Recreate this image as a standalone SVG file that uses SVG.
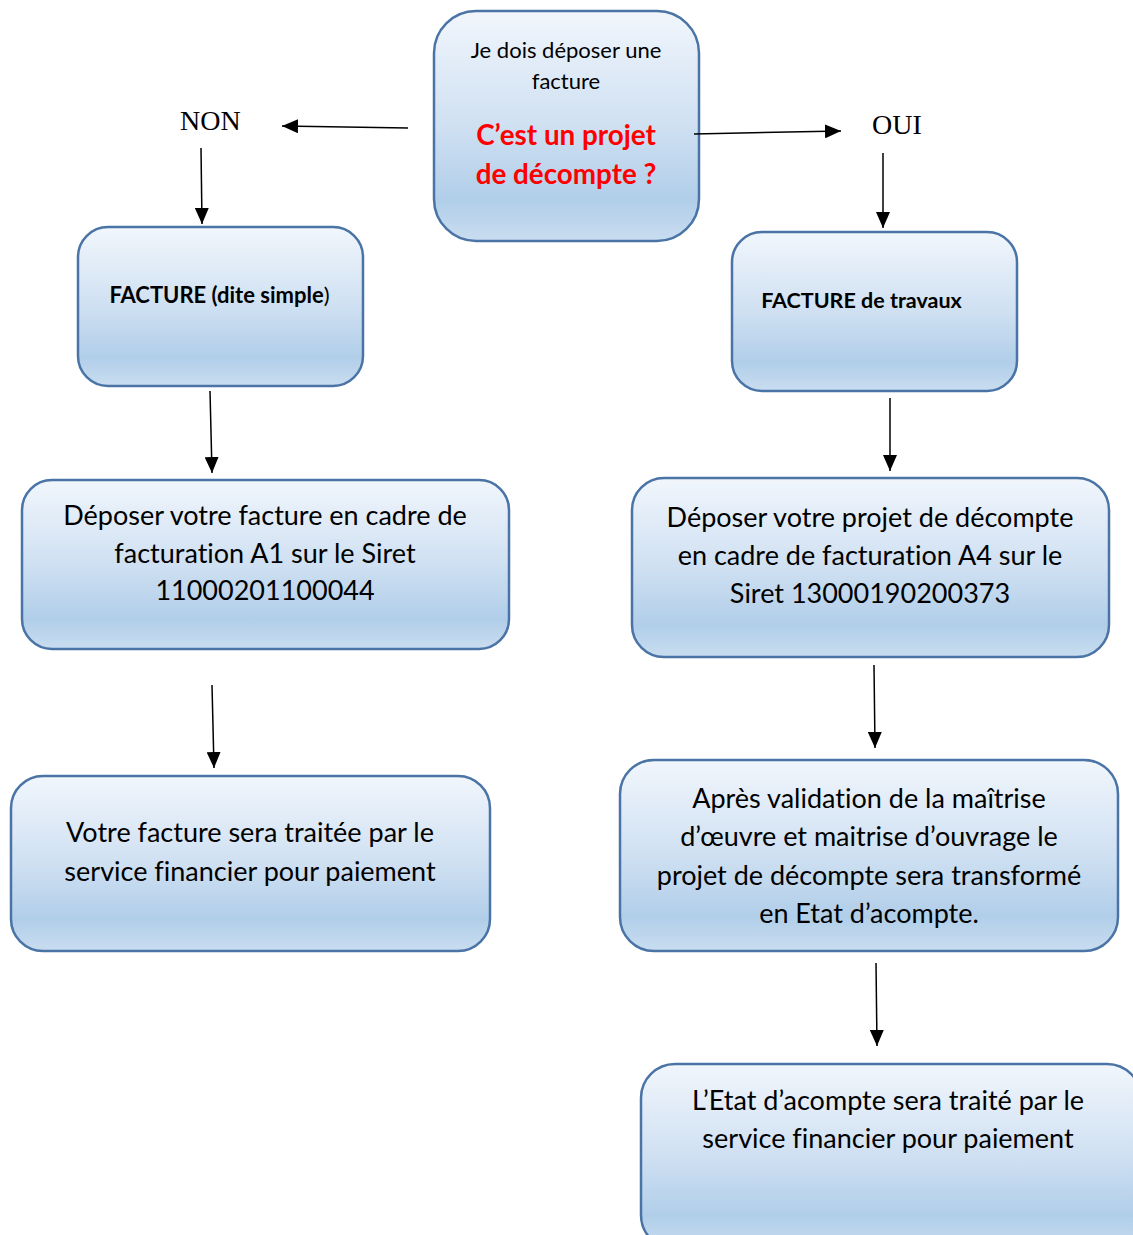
<svg xmlns="http://www.w3.org/2000/svg" width="1133" height="1235" viewBox="0 0 1133 1235">
<defs>
<linearGradient id="g" x1="0" y1="0" x2="0" y2="1">
<stop offset="0" stop-color="#f1f6fc"/>
<stop offset="0.5" stop-color="#cfe0f2"/>
<stop offset="0.82" stop-color="#b1cee9"/>
<stop offset="1" stop-color="#c9ddf0"/>
</linearGradient>
<marker id="ah2" viewBox="0 0 16 14" refX="16" refY="7" markerWidth="16" markerHeight="14" markerUnits="userSpaceOnUse" orient="auto">
<path d="M0,0 L16,7 L0,14 z" fill="#000"/>
</marker>
</defs>
<style>
.box{fill:url(#g);stroke:#4a74a5;stroke-width:2.5}
.t{font-family:Lato,"Liberation Sans",sans-serif;fill:#000;text-anchor:middle;font-variant-ligatures:none}
.b{font-weight:bold}
.r{fill:#ff0000}
.m{font-size:27px}
.lbl{font-family:"Liberation Serif",serif;font-size:28px;fill:#000}
.c line{stroke:#000;stroke-width:1.5;marker-end:url(#ah2)}
</style>
<rect width="1133" height="1235" fill="#fff"/>
<g id="q">
<rect class="box" x="434" y="11" width="265" height="230" rx="42"/>
<text class="t" x="566" y="58" font-size="22">Je dois déposer une</text>
<text class="t" x="566" y="89" font-size="22">facture</text>
<text class="t b r" x="566" y="145" font-size="27.8">C’est un projet</text>
<text class="t b r" x="566" y="184" font-size="27.8">de décompte ?</text>
</g>
<g id="non"><text class="lbl" x="180" y="130">NON</text></g>
<g id="oui"><text class="lbl" x="872" y="134">OUI</text></g>
<g id="fs">
<rect class="box" x="78" y="227" width="285" height="159" rx="30"/>
<text class="t b" x="219.5" y="303" font-size="22">FACTURE (dite simple<tspan font-weight="normal">)</tspan></text>
</g>
<g id="ft">
<rect class="box" x="732" y="232" width="285" height="159" rx="30"/>
<text class="t b" x="861.5" y="308" font-size="21.5">FACTURE de travaux</text>
</g>
<g id="a1">
<rect class="box" x="22" y="480" width="487" height="169" rx="30"/>
<text class="t m" x="265" y="525">Déposer votre facture en cadre de</text>
<text class="t m" x="265" y="563">facturation A1 sur le Siret</text>
<text class="t m" x="265" y="600">11000201100044</text>
</g>
<g id="a4">
<rect class="box" x="632" y="478" width="477" height="179" rx="32"/>
<text class="t m" x="870" y="527">Déposer votre projet de décompte</text>
<text class="t m" x="870" y="565">en cadre de facturation A4 sur le</text>
<text class="t m" x="870" y="603">Siret 13000190200373</text>
</g>
<g id="vf">
<rect class="box" x="11" y="776" width="479" height="175" rx="32"/>
<text class="t m" x="250" y="842">Votre facture sera traitée par le</text>
<text class="t m" x="250" y="881">service financier pour paiement</text>
</g>
<g id="av">
<rect class="box" x="620" y="760" width="498" height="191" rx="34"/>
<text class="t m" x="869" y="808">Après validation de la maîtrise</text>
<text class="t m" x="869" y="846">d’œuvre et maitrise d’ouvrage le</text>
<text class="t m" x="869" y="885">projet de décompte sera transformé</text>
<text class="t m" x="869" y="923">en Etat d’acompte.</text>
</g>
<g id="ea">
<rect class="box" x="641" y="1064" width="500" height="185" rx="34"/>
<text class="t m" x="888" y="1110">L’Etat d’acompte sera traité par le</text>
<text class="t m" x="888" y="1148">service financier pour paiement</text>
</g>
<g id="connectors" class="c">
<line x1="408" y1="128" x2="282" y2="126"/>
<line x1="201" y1="148" x2="202" y2="224"/>
<line x1="694" y1="134" x2="841" y2="131"/>
<line x1="883" y1="153" x2="883" y2="228"/>
<line x1="210" y1="391" x2="212" y2="473"/>
<line x1="890" y1="398" x2="890" y2="471"/>
<line x1="212" y1="685" x2="214" y2="768"/>
<line x1="874" y1="665" x2="875" y2="748"/>
<line x1="876" y1="963" x2="877" y2="1046"/>
</g>
</svg>
